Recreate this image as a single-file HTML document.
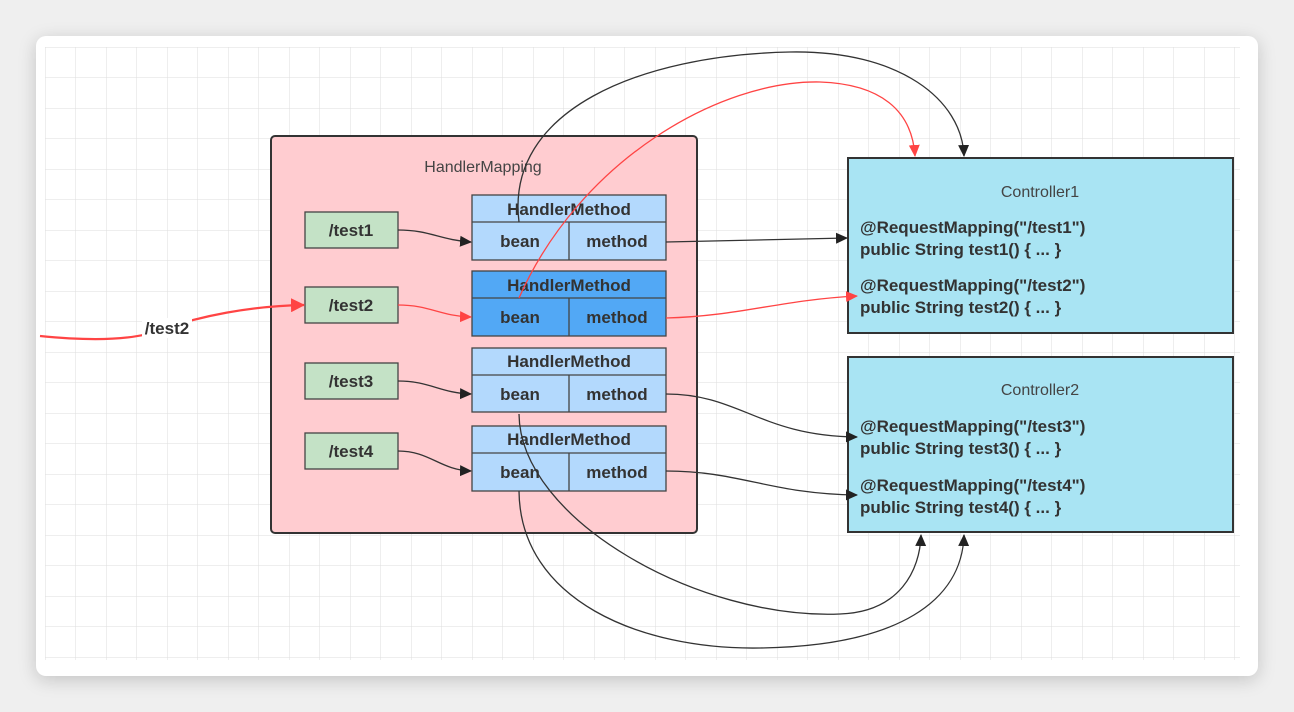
<!DOCTYPE html>
<html><head><meta charset="utf-8"><style>
html,body{margin:0;padding:0;background:#efefef;}
body{width:1294px;height:712px;position:relative;overflow:hidden;}
.card{position:absolute;left:36px;top:36px;width:1222px;height:640px;background:#fff;border-radius:10px;box-shadow:0 4px 18px rgba(0,0,0,0.18);}
svg{position:absolute;left:0;top:0;}
text{font-family:"Liberation Sans",Arial,sans-serif;}
</style></head><body>
<div class="card"></div>
<svg width="1294" height="712" viewBox="0 0 1294 712">
<defs>
<pattern id="g" x="45" y="47" width="30.5" height="30.5" patternUnits="userSpaceOnUse">
<path d="M0 0H30.5M0 0V30.5" stroke="#dedede" stroke-width="1" fill="none"/>
</pattern>
<marker id="ab" markerWidth="12" markerHeight="12" refX="11" refY="6" orient="auto" markerUnits="userSpaceOnUse"><path d="M0 0.5L12 6L0 11.5Z" fill="#222"/></marker>
<marker id="ar" markerWidth="12" markerHeight="12" refX="11" refY="6" orient="auto" markerUnits="userSpaceOnUse"><path d="M0 0.5L12 6L0 11.5Z" fill="#f44"/></marker>
<marker id="ar2" markerWidth="14" markerHeight="14" refX="13" refY="7" orient="auto" markerUnits="userSpaceOnUse"><path d="M0 0L14 7L0 14Z" fill="#f44"/></marker>
</defs>
<rect x="45" y="47" width="1195" height="613" fill="url(#g)"/>

<rect x="271" y="136" width="426" height="397" rx="4" fill="#ffccd0" stroke="#333" stroke-width="2"/>
<text x="483" y="172" text-anchor="middle" font-size="16" fill="#444">HandlerMapping</text>

<g stroke="#444" stroke-width="1.3">
<rect x="305" y="212" width="93" height="36" fill="#c4e2c6"/>
<rect x="305" y="287" width="93" height="36" fill="#c4e2c6"/>
<rect x="305" y="363" width="93" height="36" fill="#c4e2c6"/>
<rect x="305" y="433" width="93" height="36" fill="#c4e2c6"/>
</g>
<g font-size="17" font-weight="bold" fill="#333" text-anchor="middle">
<text x="351" y="236">/test1</text>
<text x="351" y="311">/test2</text>
<text x="351" y="387">/test3</text>
<text x="351" y="457">/test4</text>
</g>

<g stroke="#444" stroke-width="1.3">
<rect x="472" y="195" width="194" height="65" fill="#b3d9fd"/>
<line x1="472" y1="222" x2="666" y2="222"/><line x1="569" y1="222" x2="569" y2="260"/>
<rect x="472" y="271" width="194" height="65" fill="#52a8f5"/>
<line x1="472" y1="298" x2="666" y2="298"/><line x1="569" y1="298" x2="569" y2="336"/>
<rect x="472" y="348" width="194" height="64" fill="#b3d9fd"/>
<line x1="472" y1="375" x2="666" y2="375"/><line x1="569" y1="375" x2="569" y2="412"/>
<rect x="472" y="426" width="194" height="65" fill="#b3d9fd"/>
<line x1="472" y1="453" x2="666" y2="453"/><line x1="569" y1="453" x2="569" y2="491"/>
</g>
<g font-size="17" font-weight="bold" fill="#333" text-anchor="middle">
<text x="569" y="215">HandlerMethod</text><text x="520" y="247">bean</text><text x="617" y="247">method</text>
<text x="569" y="291">HandlerMethod</text><text x="520" y="323">bean</text><text x="617" y="323">method</text>
<text x="569" y="367">HandlerMethod</text><text x="520" y="400">bean</text><text x="617" y="400">method</text>
<text x="569" y="445">HandlerMethod</text><text x="520" y="478">bean</text><text x="617" y="478">method</text>
</g>

<rect x="848" y="158" width="385" height="175" fill="#a9e4f3" stroke="#333" stroke-width="2"/>
<rect x="848" y="357" width="385" height="175" fill="#a9e4f3" stroke="#333" stroke-width="2"/>
<g font-size="16" fill="#444" text-anchor="middle">
<text x="1040" y="197">Controller1</text>
<text x="1040" y="395">Controller2</text>
</g>
<g font-size="17" font-weight="bold" fill="#333">
<text x="860" y="233">@RequestMapping("/test1")</text>
<text x="860" y="255">public String test1() { ... }</text>
<text x="860" y="291">@RequestMapping("/test2")</text>
<text x="860" y="313">public String test2() { ... }</text>
<text x="860" y="432">@RequestMapping("/test3")</text>
<text x="860" y="454">public String test3() { ... }</text>
<text x="860" y="491">@RequestMapping("/test4")</text>
<text x="860" y="513">public String test4() { ... }</text>
</g>

<g fill="none" stroke-width="1.3">
<path d="M398 230 C430 230 440 240 471 242" stroke="#333" marker-end="url(#ab)"/>
<path d="M398 381 C430 381 440 393 471 394" stroke="#333" marker-end="url(#ab)"/>
<path d="M398 451 C430 451 440 470 471 471" stroke="#333" marker-end="url(#ab)"/>
<path d="M398 305 C430 305 440 316 471 317" stroke="#f44" marker-end="url(#ar)"/>
<path d="M666 242 L847 238" stroke="#333" marker-end="url(#ab)"/>
<path d="M666 318 C740 316 780 300 857 296" stroke="#f44" marker-end="url(#ar)"/>
<path d="M666 394 C740 394 760 436 857 437" stroke="#333" marker-end="url(#ab)"/>
<path d="M666 471 C740 471 770 494 857 495" stroke="#333" marker-end="url(#ab)"/>
<path d="M519 222 C505 110 640 55 790 52 C900 50 962 100 964 156" stroke="#333" marker-end="url(#ab)"/>
<path d="M519 298 C580 160 720 80 820 82 C880 84 912 110 915 156" stroke="#f44" marker-end="url(#ar)"/>
<path d="M519 414 C520 520 700 620 840 614 C900 612 920 570 921 535" stroke="#333" marker-end="url(#ab)"/>
<path d="M519 491 C520 600 640 650 760 648 C900 646 962 600 964 535" stroke="#333" marker-end="url(#ab)"/>
<path d="M40 336 C80 340 130 342 160 330 C200 316 250 306 304 305" stroke="#f44" stroke-width="2.2" marker-end="url(#ar2)"/>
</g>
<rect x="142" y="318" width="50" height="20" fill="#fff"/>
<text x="167" y="334" text-anchor="middle" font-size="17" font-weight="bold" fill="#333">/test2</text>
</svg>
</body></html>
